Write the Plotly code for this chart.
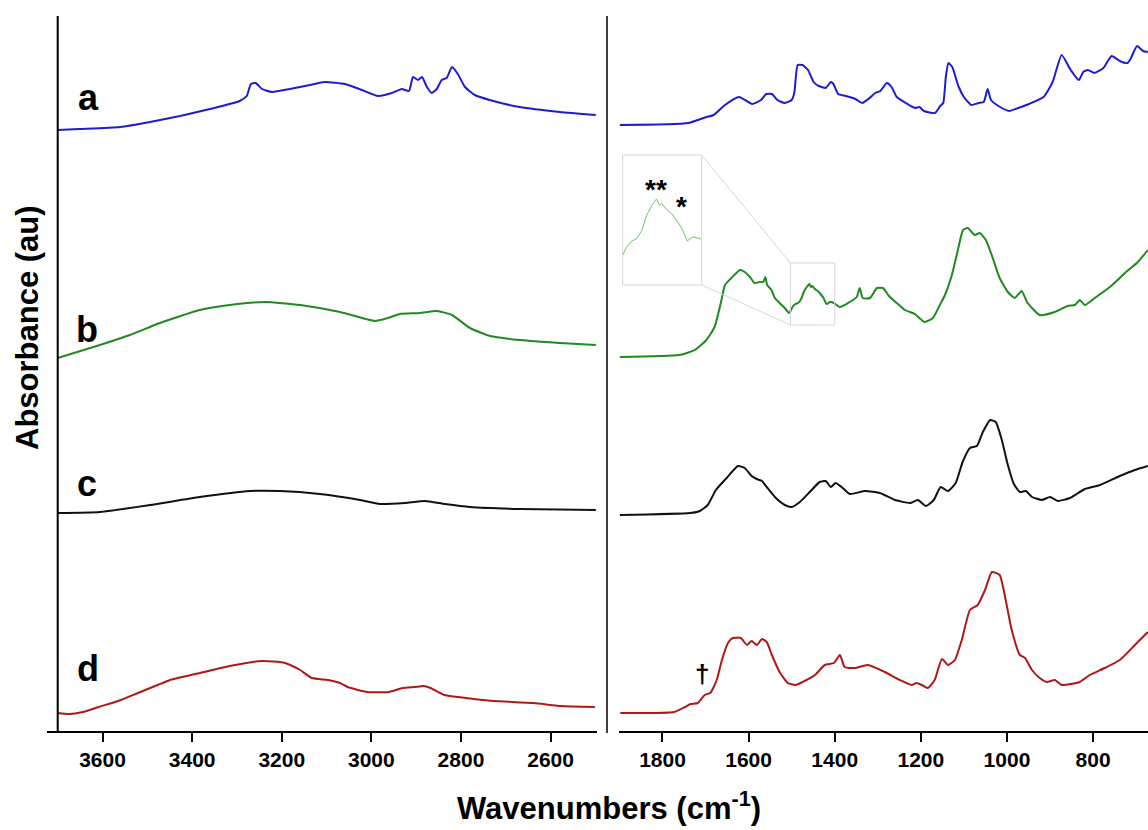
import plotly.graph_objects as go

W, H = 1148, 830
FONT = "Liberation Sans, Arial, sans-serif"


def px(x):
    return x / W


def py(y):
    return 1 - y / H


# ---------------- data (wavenumber cm-1, absorbance au, offset-stacked) ----------------
a_hi_x = [3700, 3651, 3561, 3494, 3427, 3360, 3294, 3278, 3269, 3258, 3244, 3222, 3182, 3137, 3104,
          3059, 3021, 2985, 2954, 2932, 2916, 2907, 2896, 2887, 2876, 2865, 2854, 2843, 2832, 2820,
          2807, 2791, 2769, 2736, 2669, 2579, 2499]
a_hi_y = [6.01, 6.02, 6.04, 6.09, 6.15, 6.22, 6.30, 6.35, 6.47, 6.48, 6.42, 6.39, 6.42, 6.46, 6.49,
          6.47, 6.41, 6.35, 6.38, 6.42, 6.40, 6.54, 6.51, 6.54, 6.44, 6.38, 6.42, 6.51, 6.53, 6.64,
          6.57, 6.44, 6.36, 6.31, 6.24, 6.19, 6.16]

a_lo_x = [1899, 1740, 1698, 1681, 1655, 1622, 1592, 1571, 1559, 1546, 1533, 1517, 1500, 1494, 1486,
          1475, 1462, 1449, 1437, 1421, 1409, 1403, 1392, 1374, 1352, 1336, 1319, 1306, 1294, 1279,
          1268, 1256, 1235, 1214, 1203, 1193, 1167, 1155, 1148, 1142, 1136, 1127, 1113, 1100, 1083,
          1066, 1054, 1045, 1037, 1016, 995, 974, 949, 915, 894, 873, 852, 833, 823, 812,
          797, 776, 757, 738, 720, 712, 698, 684, 673]
a_lo_y = [6.06, 6.08, 6.14, 6.16, 6.26, 6.34, 6.27, 6.31, 6.37, 6.37, 6.31, 6.28, 6.31, 6.38, 6.66,
          6.66, 6.61, 6.49, 6.45, 6.43, 6.49, 6.47, 6.37, 6.35, 6.32, 6.28, 6.33, 6.38, 6.40, 6.48,
          6.44, 6.34, 6.28, 6.23, 6.24, 6.20, 6.18, 6.25, 6.28, 6.54, 6.68, 6.64, 6.45, 6.34, 6.26,
          6.28, 6.29, 6.42, 6.31, 6.24, 6.20, 6.23, 6.27, 6.34, 6.49, 6.76, 6.61, 6.51, 6.59, 6.61,
          6.58, 6.63, 6.75, 6.70, 6.68, 6.73, 6.85, 6.80, 6.79]

b_hi_x = [3700, 3606, 3539, 3472, 3383, 3316, 3238, 3159, 3070, 2992, 2963, 2936, 2892, 2854, 2820,
          2780, 2735, 2668, 2579, 2499]
b_hi_y = [3.73, 3.86, 3.96, 4.08, 4.21, 4.26, 4.29, 4.26, 4.19, 4.10, 4.13, 4.17, 4.18, 4.20, 4.16,
          4.03, 3.95, 3.91, 3.88, 3.86]

b_lo_x = [1899, 1760, 1725, 1698, 1679, 1663, 1655, 1640, 1620, 1609, 1597, 1586, 1574, 1566, 1561,
          1557, 1547, 1539, 1528, 1516, 1506, 1498, 1491, 1485, 1478, 1472, 1465, 1459, 1455, 1452,
          1446, 1439, 1433, 1426, 1419, 1411, 1402,
          1388, 1369, 1349, 1342, 1335, 1318, 1302, 1288, 1274, 1256, 1237, 1214, 1191, 1172, 1156,
          1144, 1128, 1114, 1102, 1091, 1075, 1063, 1049, 1033, 1017, 998, 982, 966, 952, 924,
          889, 859, 842, 831, 819, 796, 761, 726, 696, 673]
b_lo_y = [3.74, 3.76, 3.81, 3.91, 4.04, 4.31, 4.46, 4.53, 4.61, 4.59, 4.54, 4.48, 4.49, 4.49, 4.54,
          4.46, 4.41, 4.33, 4.28, 4.23, 4.18, 4.24, 4.27, 4.28, 4.32, 4.39, 4.44, 4.47, 4.44, 4.45,
          4.42, 4.40, 4.37, 4.33, 4.27, 4.29, 4.28,
          4.24, 4.28, 4.34, 4.43, 4.33, 4.33, 4.43, 4.43, 4.35, 4.28, 4.21, 4.17, 4.09, 4.13, 4.26,
          4.36, 4.56, 4.81, 5.01, 5.03, 4.96, 4.98, 4.91, 4.73, 4.53, 4.39, 4.33, 4.40, 4.28, 4.16,
          4.19, 4.25, 4.26, 4.31, 4.26, 4.33, 4.44, 4.58, 4.69, 4.81]

c_hi_x = [3700, 3606, 3494, 3383, 3271, 3204, 3115, 3025, 2981, 2925, 2880, 2836, 2780, 2668, 2499]
c_hi_y = [2.18, 2.19, 2.26, 2.34, 2.40, 2.40, 2.37, 2.31, 2.27, 2.28, 2.30, 2.27, 2.24, 2.22, 2.21]

c_lo_x = [1899, 1736, 1713, 1695, 1676, 1651, 1625, 1609, 1593, 1581, 1569, 1558, 1539, 1516, 1500,
          1481, 1458, 1435, 1421, 1409, 1398, 1384, 1365, 1330, 1295, 1260, 1225, 1207, 1188, 1170,
          1154, 1137, 1119, 1103, 1086, 1070, 1056, 1039, 1026, 1012, 998, 984, 970, 956, 942,
          919, 900, 882, 854, 819, 784, 738, 703, 673]
c_lo_y = [2.16, 2.18, 2.20, 2.26, 2.41, 2.53, 2.65, 2.63, 2.55, 2.52, 2.50, 2.44, 2.34, 2.26, 2.24,
          2.29, 2.39, 2.49, 2.50, 2.44, 2.48, 2.44, 2.37, 2.40, 2.38, 2.31, 2.28, 2.31, 2.25, 2.31,
          2.44, 2.40, 2.48, 2.69, 2.83, 2.85, 2.99, 3.11, 3.09, 2.91, 2.66, 2.47, 2.39, 2.40, 2.34,
          2.31, 2.34, 2.30, 2.33, 2.42, 2.46, 2.55, 2.61, 2.65]

d_hi_x = [3700, 3675, 3644, 3609, 3565, 3521, 3477, 3449, 3383, 3316, 3244, 3193, 3159, 3133, 3097,
          3070, 3053, 3009, 2961, 2930, 2903, 2884, 2868, 2837, 2806, 2771, 2727, 2638, 2577, 2501]
d_hi_y = [0.18, 0.17, 0.19, 0.24, 0.30, 0.38, 0.46, 0.51, 0.58, 0.65, 0.70, 0.68, 0.61, 0.53, 0.51,
          0.48, 0.44, 0.39, 0.39, 0.43, 0.44, 0.45, 0.43, 0.36, 0.34, 0.32, 0.30, 0.28, 0.25, 0.24]

d_lo_x = [1898, 1773, 1748, 1735, 1718, 1702, 1689, 1674, 1662, 1648, 1637, 1618, 1604, 1593, 1581,
          1569, 1558, 1546, 1528, 1509, 1491, 1470, 1446, 1423, 1402, 1388, 1377, 1353, 1323, 1284,
          1249, 1221, 1210, 1198, 1184, 1168, 1151, 1137, 1121, 1105, 1086, 1068, 1051, 1035, 1017,
          1003, 989, 970, 958, 942, 924, 907, 889, 873, 831, 808, 773, 738, 703, 673]
d_lo_y = [0.18, 0.19, 0.24, 0.27, 0.28, 0.36, 0.38, 0.51, 0.71, 0.88, 0.93, 0.93, 0.86, 0.90, 0.86,
          0.92, 0.89, 0.76, 0.59, 0.48, 0.46, 0.50, 0.56, 0.66, 0.68, 0.76, 0.64, 0.63, 0.66, 0.59,
          0.51, 0.46, 0.48, 0.46, 0.43, 0.51, 0.72, 0.66, 0.71, 0.91, 1.21, 1.26, 1.41, 1.59, 1.56,
          1.31, 1.01, 0.76, 0.73, 0.61, 0.53, 0.49, 0.51, 0.46, 0.49, 0.56, 0.63, 0.71, 0.86, 0.99]

hi_ticks = [3600, 3400, 3200, 3000, 2800, 2600]
lo_ticks = [1800, 1600, 1400, 1200, 1000, 800]
inset_range_x = [1503, 1400]
inset_range_y = [4.06, 4.68]

series = [
    ("a", a_hi_x, a_hi_y, a_lo_x, a_lo_y, "#1c1cd2"),
    ("b", b_hi_x, b_hi_y, b_lo_x, b_lo_y, "#1f8a1f"),
    ("c", c_hi_x, c_hi_y, c_lo_x, c_lo_y, "#111111"),
    ("d", d_hi_x, d_hi_y, d_lo_x, d_lo_y, "#b01818"),
]

LINE_SHAPE = dict(shape="spline", smoothing=0.5)

fig = go.Figure()
for name, hx, hy, lx, ly, col in series:
    fig.add_trace(go.Scatter(x=hx, y=hy, mode="lines", xaxis="x", yaxis="y",
                             line=dict(color=col, width=2, **LINE_SHAPE), showlegend=False))
    fig.add_trace(go.Scatter(x=lx, y=ly, mode="lines", xaxis="x2", yaxis="y",
                             line=dict(color=col, width=2, **LINE_SHAPE), showlegend=False))

# inset: magnified view of spectrum b
fig.add_trace(go.Scatter(x=b_lo_x, y=b_lo_y, mode="lines", xaxis="x3", yaxis="y3",
                         line=dict(color="#6fbf6f", width=1), showlegend=False))

axis_common = dict(showline=True, linecolor="black", linewidth=2, ticks="outside", ticklen=9,
                   tickwidth=2, tickcolor="black", showgrid=False, zeroline=False,
                   tickfont=dict(family=FONT, size=21, color="black", weight="bold"))

fig.update_layout(
    width=W, height=H, margin=dict(l=0, r=0, t=0, b=0),
    paper_bgcolor="white", plot_bgcolor="rgba(0,0,0,0)",
    xaxis=dict(domain=[px(47), px(596.7)], range=[3724, 2497], tickvals=hi_ticks, anchor="y",
               **axis_common),
    xaxis2=dict(domain=[px(619), 1.0], range=[1901, 672.5], tickvals=lo_ticks, anchor="y",
                **axis_common),
    yaxis=dict(domain=[py(731), py(16)], range=[0, 7.15], visible=False, anchor="x"),
    xaxis3=dict(domain=[px(622.7), px(701.7)], range=inset_range_x, visible=False, anchor="y3"),
    yaxis3=dict(domain=[py(285), py(155)], range=inset_range_y, visible=False, anchor="x3"),
)

shapes = [
    dict(type="line", xref="paper", yref="paper", x0=px(57.7), x1=px(57.7), y0=py(731), y1=py(16),
         line=dict(color="black", width=2)),
    dict(type="line", xref="paper", yref="paper", x0=px(607), x1=px(607), y0=py(733), y1=py(16),
         line=dict(color="black", width=1.5)),
    dict(type="rect", xref="paper", yref="paper", x0=px(622.7), x1=px(701.7), y0=py(285), y1=py(155),
         line=dict(color="#d6d6d6", width=1)),
    dict(type="rect", xref="x2", yref="y", x0=inset_range_x[0], x1=inset_range_x[1],
         y0=inset_range_y[0], y1=inset_range_y[1], line=dict(color="#d6d6d6", width=1)),
    dict(type="line", xref="paper", yref="paper", x0=px(701.7), y0=py(155), x1=px(790.7), y1=py(263.3),
         line=dict(color="#d6d6d6", width=1)),
    dict(type="line", xref="paper", yref="paper", x0=px(701.7), y0=py(285), x1=px(790.7), y1=py(325),
         line=dict(color="#d6d6d6", width=1)),
]
fig.update_layout(shapes=shapes)

ann = []
label_pos = {"a": (88, 98), "b": (87, 329), "c": (87, 483), "d": (88, 668)}
for name, (lx, ly) in label_pos.items():
    ann.append(dict(text=name, x=px(lx), y=py(ly), xref="paper", yref="paper", showarrow=False,
                    xanchor="center", yanchor="middle",
                    font=dict(family=FONT, size=36, color="black", weight="bold")))
ann.append(dict(text="Wavenumbers (cm<sup>-1</sup>)", x=px(609), y=py(806), xref="paper", yref="paper",
                showarrow=False, xanchor="center", yanchor="middle",
                font=dict(family=FONT, size=31, color="black", weight="bold")))
ann.append(dict(text="Absorbance (au)", x=px(27), y=py(328), xref="paper", yref="paper",
                showarrow=False, xanchor="center", yanchor="middle", textangle=-90,
                font=dict(family=FONT, size=31, color="black", weight="bold")))
ann.append(dict(text="**", x=px(656), y=py(190), xref="paper", yref="paper", showarrow=False,
                xanchor="center", yanchor="middle",
                font=dict(family=FONT, size=28, color="black", weight="bold")))
ann.append(dict(text="*", x=px(681), y=py(206), xref="paper", yref="paper", showarrow=False,
                xanchor="center", yanchor="middle",
                font=dict(family=FONT, size=28, color="black", weight="bold")))
ann.append(dict(text="†", x=px(702), y=py(674), xref="paper", yref="paper", showarrow=False,
                xanchor="center", yanchor="middle",
                font=dict(family=FONT, size=26, color="black", weight="bold")))
fig.update_layout(annotations=ann)

fig.write_html("out.html", config={"displayModeBar": False},
               post_script="document.body.style.margin='0';document.body.style.overflow='hidden';")
